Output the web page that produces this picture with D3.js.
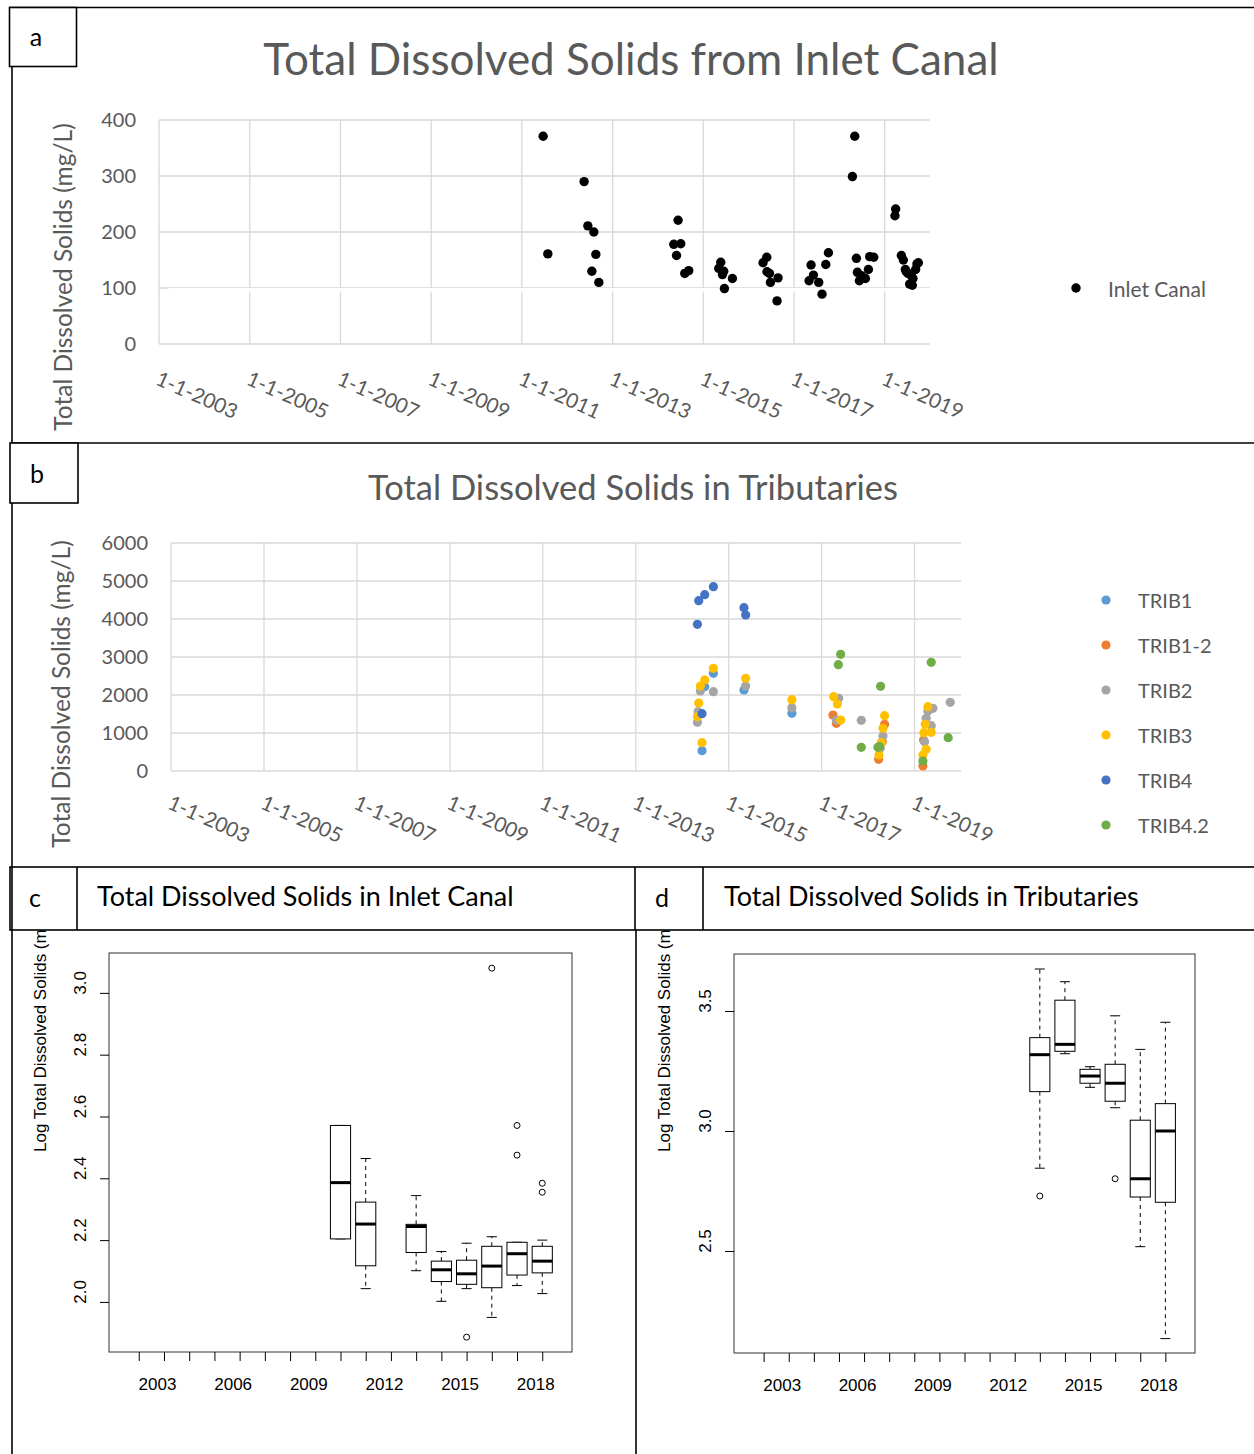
<!DOCTYPE html>
<html>
<head>
<meta charset="utf-8">
<script src="https://cdn.jsdelivr.net/npm/d3@7"></script>
<style>
  body { margin: 0; background: #fff; }
  .xl { font-family: Lato, 'Open Sans', sans-serif; fill: #595959; }
  .r { font-family: 'Liberation Sans', Arial, sans-serif; fill: #000; }
</style>
</head>
<body>
<div class="fig"></div>
<script>
// --- panel a: inlet canal samples (decimal year, mg/L) ---
const inletYears = [2011.47, 2011.573, 2012.373, 2012.455, 2012.587, 2012.631, 2012.543, 2012.697,
  2014.445, 2014.35, 2014.504, 2014.41, 2014.592, 2014.68,
  2015.386, 2015.342, 2015.452, 2015.423, 2015.643, 2015.467,
  2016.40, 2016.318, 2016.405, 2016.459, 2016.648, 2016.481, 2016.626,
  2017.376, 2017.429, 2017.332, 2017.545, 2017.618, 2017.70, 2017.759,
  2018.339, 2018.288, 2018.376, 2018.398, 2018.486, 2018.442, 2018.575, 2018.641, 2018.67, 2018.758,
  2019.242, 2019.227, 2019.368, 2019.412, 2019.456, 2019.514, 2019.589, 2019.712, 2019.683, 2019.551,
  2019.624, 2019.477, 2019.743, 2019.61];
const inletTDS = [371, 161, 290, 211, 200, 160, 130, 110,
  221, 178, 179, 158, 126, 131,
  146, 135, 130, 124, 117, 99,
  155, 145, 129, 126, 118, 110, 77,
  141, 123, 113, 110, 89, 142, 163,
  371, 299, 153, 128, 122, 113, 117, 133, 156, 155,
  241, 229, 158, 150, 133, 126, 122, 143, 133, 107,
  117, 129, 145, 105];

// --- panel b: tributaries ---
const tribNames = ['TRIB1', 'TRIB1-2', 'TRIB2', 'TRIB3', 'TRIB4', 'TRIB4.2'];
const tribColors = ['#5B9BD5', '#ED7D31', '#A5A5A5', '#FFC000', '#4472C4', '#70AD47'];
const trib1Years = [2014.671, 2014.484, 2014.426, 2015.329, 2016.36];
const trib1 = [2570, 2219, 535, 2132, 1518];
const trib12Years = [2017.243, 2017.316, 2018.355, 2018.305, 2018.226, 2019.194, 2019.18];
const trib12 = [1474, 1254, 1228, 772, 307, 816, 132];
const trib2Years = [2014.671, 2014.39, 2014.34, 2014.327, 2015.366, 2016.36, 2017.366, 2017.316, 2017.853,
  2018.32, 2018.26, 2019.287, 2019.395, 2019.25, 2019.359, 2019.215, 2019.768];
const trib2 = [2088, 2105, 1561, 1281, 2237, 1666, 1912, 1342, 1333, 921, 596, 1579, 1649, 1386, 1193, 772, 1807];
const trib3Years = [2014.671, 2014.484, 2014.39, 2014.355, 2014.327, 2014.426, 2015.366, 2016.36, 2017.258,
  2017.338, 2017.409, 2018.355, 2018.32, 2018.284, 2018.234, 2019.287, 2019.23, 2019.2, 2019.359, 2019.25, 2019.18];
const trib3 = [2702, 2395, 2237, 1789, 1430, 746, 2439, 1877, 1956, 1763, 1342, 1456, 1123, 746, 421,
  1693, 1228, 1009, 1017, 570, 421];
const trib4Years = [2014.671, 2014.484, 2014.355, 2014.327, 2015.329, 2015.366, 2014.426];
const trib4 = [4850, 4640, 4482, 3860, 4298, 4105, 1508];
const trib42Years = [2017.409, 2017.359, 2018.269, 2019.359, 2019.724, 2017.853, 2018.211, 2018.247, 2019.18];
const trib42 = [3070, 2798, 2229, 2860, 877, 623, 623, 640, 263];

// --- panel c: log TDS inlet canal boxplots [lo, q1, med, q3, hi] ---
const boxYearsC = [2010, 2011, 2013, 2014, 2015, 2016, 2017, 2018];
const statsC = [
  [2.204, 2.204, 2.386, 2.571, 2.571],
  [2.043, 2.117, 2.252, 2.323, 2.464],
  [2.101, 2.160, 2.244, 2.251, 2.344],
  [2.002, 2.066, 2.104, 2.132, 2.163],
  [2.043, 2.057, 2.091, 2.135, 2.190],
  [1.950, 2.046, 2.116, 2.180, 2.211],
  [2.053, 2.087, 2.156, 2.193, 2.193],
  [2.027, 2.094, 2.132, 2.180, 2.200]
];
const outliersC = [[], [], [], [], [1.886], [3.080], [2.571, 2.475], [2.384, 2.355]];

// --- panel d: log TDS tributaries boxplots ---
const boxYearsD = [2013, 2014, 2015, 2016, 2017, 2018];
const statsD = [
  [2.845, 3.164, 3.318, 3.389, 3.675],
  [3.322, 3.332, 3.361, 3.545, 3.622],
  [3.182, 3.199, 3.229, 3.257, 3.268],
  [3.097, 3.124, 3.199, 3.278, 3.480],
  [2.518, 2.725, 2.801, 3.045, 3.340],
  [2.135, 2.703, 3.000, 3.114, 3.453]
];
const outliersD = [[2.729], [], [], [2.801], [], []];

const boxAxisYears = d3.range(2002, 2019);
const ticksC = [2.0, 2.2, 2.4, 2.6, 2.8, 3.0];
const ticksD = [2.5, 3.0, 3.5];

const decYear = y => {
  const yr = Math.floor(y), a = new Date(yr, 0, 1), b = new Date(yr + 1, 0, 1);
  return new Date(+a + (y - yr) * (b - a));
};

const svg = d3.select('.fig').append('svg').attr('width', 1254).attr('height', 1454);
svg.append('rect').attr('width', 1254).attr('height', 1454).attr('fill', '#fff');

const gridYears = d3.range(2003, 2021, 2).map(y => new Date(y, 0, 1));

// excel-style scatter panel
function scatterPanel(o) {
  const g = svg.append('g');
  const x = d3.scaleTime().domain([new Date(2003, 0, 1), new Date(2020, 0, 1)]).range(o.xr);
  const y = d3.scaleLinear().domain([0, o.ymax]).range(o.yr);
  const yt = d3.range(0, o.ymax + 1, o.ystep);

  g.selectAll('.hg').data(yt).join('line')
    .attr('x1', o.xr[0]).attr('x2', o.xr[1]).attr('y1', d => y(d)).attr('y2', d => y(d))
    .attr('stroke', '#d9d9d9').attr('stroke-width', 1.3);
  g.selectAll('.vg').data(gridYears).join('line')
    .attr('x1', d => x(d)).attr('x2', d => x(d)).attr('y1', o.yr[0]).attr('y2', o.yr[1])
    .attr('stroke', '#d9d9d9').attr('stroke-width', 1.3);
  if (o.gap) g.append('rect').attr('x', x(new Date(2003, 2, 20))).attr('y', y(100))
    .attr('width', o.xr[1] - x(new Date(2003, 2, 20))).attr('height', 3.5).attr('fill', '#fff');

  const ya = g.append('g').attr('transform', `translate(${o.xr[0]},0)`)
    .call(d3.axisLeft(y).tickValues(yt).tickSize(0).tickPadding(23).tickFormat(d3.format('d')));
  ya.select('.domain').remove();
  ya.selectAll('text').attr('class', 'xl').attr('font-size', 20).attr('fill', '#595959');

  const xa = g.append('g').attr('transform', `translate(0,${o.yr[0]})`)
    .call(d3.axisBottom(x).tickValues(gridYears).tickSize(0).tickFormat(d3.timeFormat('%-m-%-d-%Y')));
  xa.select('.domain').remove();
  xa.selectAll('text').attr('class', 'xl').attr('font-size', 20.5).attr('fill', '#595959')
    .attr('y', 0).attr('dy', 0).attr('text-anchor', 'start')
    .attr('transform', `translate(-5,${o.labDy}) rotate(24)`);

  o.series.forEach(s => {
    g.append('g').selectAll('circle').data(s.v).join('circle')
      .attr('cx', (d, i) => x(decYear(s.t[i]))).attr('cy', d => y(d))
      .attr('r', o.r).attr('fill', s.c);
  });

  g.append('text').attr('class', 'xl').attr('x', o.tx).attr('y', o.ty)
    .attr('text-anchor', 'middle').attr('font-size', o.tsize).text(o.title);
  g.append('text').attr('class', 'xl').attr('font-size', 24.5)
    .attr('transform', `translate(${o.ytx},${(o.yr[0] + o.yr[1]) / 2 + o.ytdy}) rotate(-90)`)
    .attr('text-anchor', 'middle').attr('dominant-baseline', 'central')
    .text('Total Dissolved Solids (mg/L)');

  o.series.forEach((s, i) => {
    const ly = o.ly0 + i * 45;
    g.append('circle').attr('cx', o.lx).attr('cy', ly).attr('r', o.r).attr('fill', s.c);
    g.append('text').attr('class', 'xl').attr('x', o.lx + 32).attr('y', ly)
      .attr('dominant-baseline', 'central').attr('font-size', o.lsize).text(s.name);
  });
}

scatterPanel({
  xr: [159, 930], yr: [344, 120], ymax: 400, ystep: 100, r: 4.7, gap: true, labDy: 40,
  series: [{ name: 'Inlet Canal', t: inletYears, v: inletTDS, c: '#000' }],
  title: 'Total Dissolved Solids from Inlet Canal', tx: 631, ty: 75, tsize: 44,
  ytx: 62, ytdy: 45, lx: 1076, ly0: 288, lsize: 21
});

const tribT = [trib1Years, trib12Years, trib2Years, trib3Years, trib4Years, trib42Years];
const tribV = [trib1, trib12, trib2, trib3, trib4, trib42];
scatterPanel({
  xr: [171, 961], yr: [771, 543], ymax: 6000, ystep: 1000, r: 4.6, gap: false, labDy: 37,
  series: tribNames.map((n, i) => ({ name: n, t: tribT[i], v: tribV[i], c: tribColors[i] })),
  title: 'Total Dissolved Solids in Tributaries', tx: 633, ty: 500, tsize: 34.5,
  ytx: 60, ytdy: 37, lx: 1106, ly0: 600, lsize: 20
});

// R-style boxplot panel
function boxPanel(o) {
  const g = svg.append('g');
  const x = d3.scaleLinear().domain([2002 - 1.18, 2018 + 1.18]).range(o.xr);
  const y = d3.scaleLinear().domain(o.yd).range(o.yr);

  g.append('text').attr('class', 'r').attr('font-size', 17)
    .attr('transform', `translate(${o.ltx},1152) rotate(-90)`).attr('dominant-baseline', 'central')
    .text('Log Total Dissolved Solids (mg/L)');

  o.years.forEach((yr, i) => {
    const [lo, q1, md, q3, hi] = o.stats[i];
    const bx = g.append('g');
    bx.append('line').attr('x1', x(yr)).attr('x2', x(yr)).attr('y1', y(q3)).attr('y2', y(hi))
      .attr('stroke', '#000').attr('stroke-dasharray', '4,4');
    bx.append('line').attr('x1', x(yr)).attr('x2', x(yr)).attr('y1', y(q1)).attr('y2', y(lo))
      .attr('stroke', '#000').attr('stroke-dasharray', '4,4');
    [lo, hi].forEach(v => bx.append('line').attr('x1', x(yr - 0.2)).attr('x2', x(yr + 0.2))
      .attr('y1', y(v)).attr('y2', y(v)).attr('stroke', '#000'));
    bx.append('rect').attr('x', x(yr - 0.4)).attr('width', x(yr + 0.4) - x(yr - 0.4))
      .attr('y', y(q3)).attr('height', y(q1) - y(q3)).attr('fill', '#fff').attr('stroke', '#000');
    bx.append('line').attr('x1', x(yr - 0.4)).attr('x2', x(yr + 0.4)).attr('y1', y(md)).attr('y2', y(md))
      .attr('stroke', '#000').attr('stroke-width', 3);
    bx.selectAll('circle').data(o.outs[i]).join('circle').attr('cx', x(yr)).attr('cy', d => y(d))
      .attr('r', 3).attr('fill', 'none').attr('stroke', '#000');
  });

  g.append('rect').attr('x', o.xr[0]).attr('y', o.yr[1]).attr('width', o.xr[1] - o.xr[0])
    .attr('height', o.yr[0] - o.yr[1]).attr('fill', 'none').attr('stroke', '#333');

  const xa = g.append('g').attr('transform', `translate(0,${o.yr[0]})`)
    .call(d3.axisBottom(x).tickValues(boxAxisYears).tickSize(9).tickPadding(17)
      .tickFormat(d => (d - 2003) % 3 === 0 ? d : ''));
  xa.select('.domain').remove();
  xa.selectAll('text').attr('class', 'r').attr('font-size', 17).attr('x', -7);

  const ya = g.append('g').attr('transform', `translate(${o.xr[0]},0)`)
    .call(d3.axisLeft(y).tickValues(o.ticks).tickSize(9).tickFormat(''));
  ya.select('.domain').remove();
  g.selectAll('.ylab').data(o.ticks).join('text').attr('class', 'r').attr('font-size', 17)
    .attr('transform', d => `translate(${o.xr[0] - 29},${y(d) - 10}) rotate(-90)`)
    .attr('text-anchor', 'middle').attr('dominant-baseline', 'central')
    .text(d => d.toFixed(1));
}

boxPanel({ xr: [109, 572], yr: [1352, 953], yd: [1.838, 3.129], ticks: ticksC,
  years: boxYearsC, stats: statsC, outs: outliersC, ltx: 40 });
boxPanel({ xr: [734, 1195], yr: [1353, 954], yd: [2.075, 3.7375], ticks: ticksD,
  years: boxYearsD, stats: statsD, outs: outliersD, ltx: 664 });

// frame and panel labels
const fr = svg.append('g').attr('stroke', '#000').attr('stroke-width', 1.6).attr('fill', '#fff');
fr.append('rect').attr('x', 10).attr('y', 867).attr('width', 1250).attr('height', 63);
fr.append('line').attr('x1', 12).attr('x2', 12).attr('y1', 7).attr('y2', 1454);
fr.append('line').attr('x1', 636).attr('x2', 636).attr('y1', 930).attr('y2', 1454);
fr.append('line').attr('x1', 9).attr('x2', 1254).attr('y1', 7.5).attr('y2', 7.5);
fr.append('line').attr('x1', 12).attr('x2', 1254).attr('y1', 443).attr('y2', 443);
fr.append('rect').attr('x', 9.5).attr('y', 7.5).attr('width', 67).attr('height', 59);
fr.append('rect').attr('x', 10).attr('y', 443).attr('width', 68).attr('height', 60);
[77, 635, 703].forEach(v => fr.append('line').attr('x1', v).attr('x2', v).attr('y1', 867).attr('y2', 930));

const lab = svg.append('g').attr('font-family', "Lato, 'Open Sans', sans-serif").attr('fill', '#000');
[['a', 36, 36], ['b', 37, 473], ['c', 35, 897], ['d', 662, 897]].forEach(([t, x, y]) =>
  lab.append('text').attr('x', x).attr('y', y).attr('text-anchor', 'middle')
    .attr('dominant-baseline', 'central').attr('font-size', 25).text(t));
lab.append('text').attr('x', 97).attr('y', 906).attr('font-size', 27).text('Total Dissolved Solids in Inlet Canal');
lab.append('text').attr('x', 724).attr('y', 906).attr('font-size', 27).text('Total Dissolved Solids in Tributaries');
</script>
</body>
</html>
